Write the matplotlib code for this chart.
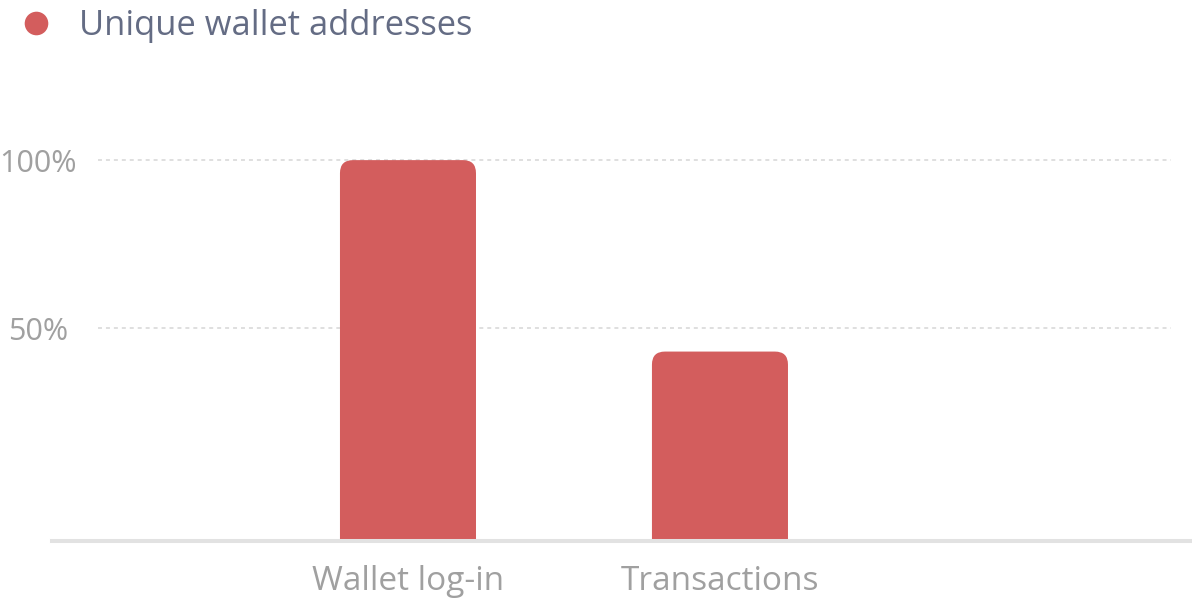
import matplotlib
matplotlib.use("Agg")
import matplotlib.pyplot as plt
from matplotlib.patches import FancyBboxPatch
from matplotlib.lines import Line2D

categories = ["Wallet log-in", "Transactions"]
values = [100, 43]
series_name = "Unique wallet addresses"
yticks = [50, 100]
ytick_labels = ["50%", "100%"]

BAR_COLOR = "#d35d5d"
GRID_COLOR = "#dcdcdc"
TICK_COLOR = "#a0a0a0"
LEGEND_COLOR = "#646c84"
FONT = ["Open Sans", "DejaVu Sans"]

W, H = 1192, 604
fig = plt.figure(figsize=(W / 100, H / 100), dpi=100)
ax = fig.add_axes([52 / W, (H - 541) / H, (1192 - 52) / W, (541 - 100) / H])

ymin, ymax = -13.4, 117.9
ax.set_ylim(ymin, ymax)
ax.set_xlim(-1.141, 2.513)

x = list(range(len(categories)))
bar_w = 0.436

fig.canvas.draw()
p0 = ax.transData.transform((0, 0))
p1 = ax.transData.transform((1, 1))
px_x = p1[0] - p0[0]
px_y = p1[1] - p0[1]
r_px = 13
r_x = r_px / px_x
aspect = px_x / px_y

for xi, v in zip(x, values):
    extra = 10
    patch = FancyBboxPatch((xi - bar_w / 2, ymin - extra), bar_w, v - ymin + extra,
                           boxstyle=f"round,pad=0,rounding_size={r_x}",
                           mutation_aspect=aspect, facecolor=BAR_COLOR,
                           edgecolor="none", zorder=2)
    ax.add_patch(patch)

for yv in yticks:
    ax.axhline(yv, xmin=0.04, xmax=0.982, color=GRID_COLOR, lw=1.3,
               linestyle=(0, (2.2, 2.2)), zorder=1)

for s in ["top", "right", "left"]:
    ax.spines[s].set_visible(False)
ax.spines["bottom"].set_color("#e2e2e2")
ax.spines["bottom"].set_linewidth(2.9)
ax.spines["bottom"].set_zorder(3)

ax.set_yticks(yticks)
ax.set_yticklabels(ytick_labels, fontsize=22, color=TICK_COLOR, family=FONT, ha="center")
ax.tick_params(axis="y", length=0, pad=10)
ax.set_xticks(x)
ax.set_xticklabels(categories, fontsize=24, color=TICK_COLOR, family=FONT)
ax.tick_params(axis="x", length=0, pad=17.5)

handle = Line2D([], [], marker="o", linestyle="none", markersize=17,
                markerfacecolor=BAR_COLOR, markeredgecolor="none")
leg = fig.legend([handle], [series_name], loc="upper left",
                 bbox_to_anchor=(17 / W, 1 - 7 / H), frameon=False,
                 prop={"family": FONT, "size": 24.8}, handletextpad=0.75,
                 borderaxespad=0.0, handlelength=1.0, borderpad=0.05)
for t in leg.get_texts():
    t.set_color(LEGEND_COLOR)

fig.savefig("out.png", dpi=100, facecolor="white")
